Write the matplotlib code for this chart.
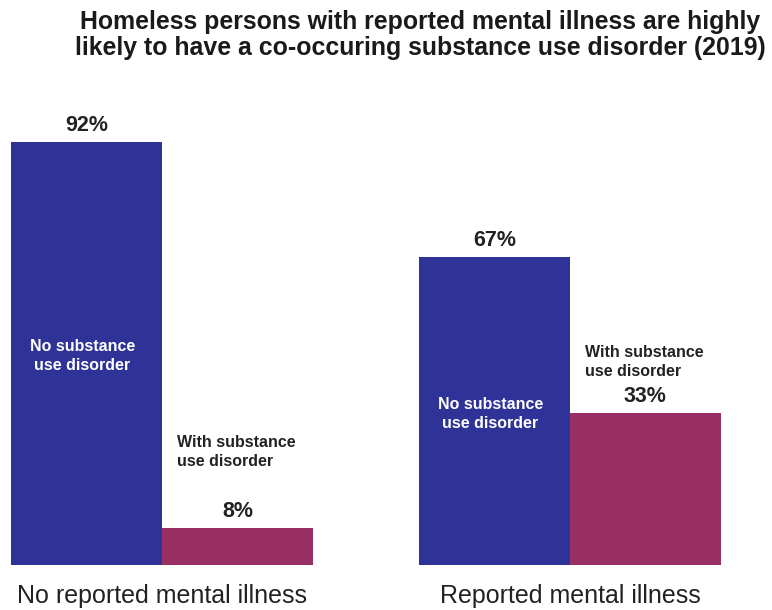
import matplotlib
matplotlib.use('Agg')
import matplotlib.pyplot as plt
import numpy as np

plt.rcParams['font.family'] = ['Liberation Sans', 'DejaVu Sans']

# Share of homeless persons (%) by mental illness status, 2019
groups = ['No reported mental illness', 'Reported mental illness']
no_sud = [92, 67]
with_sud = [8, 33]
no_sud_label = 'No substance\nuse disorder'
with_sud_label = 'With substance\nuse disorder'

blue = '#2f3398'
magenta = '#993063'

fig = plt.figure(figsize=(7.72, 6.10), dpi=100)
ax = fig.add_axes([0, 45 / 610, 1, 475 / 610])

x = np.arange(len(groups))
w = 0.37
b1 = ax.bar(x - w / 2, no_sud, w, color=blue)
b2 = ax.bar(x + w / 2, with_sud, w, color=magenta)

ax.set_xlim(-162 / 408, 610 / 408)
ax.set_ylim(0, 475 / 4.6)

# value labels above the bars
for bars, vals in [(b1, no_sud), (b2, with_sud)]:
    for rect, v in zip(bars, vals):
        ax.annotate(f'{v}%', (rect.get_x() + rect.get_width() / 2, v),
                    xytext=(0, 12), textcoords='offset points',
                    ha='center', va='center', fontsize=15.5,
                    fontweight='bold', color='#222222')

# white labels inside the blue bars
for rect, v in zip(b1, no_sud):
    ax.annotate(no_sud_label, (rect.get_x() + rect.get_width() / 2, v / 2),
                xytext=(-3, -2), textcoords='offset points',
                ha='center', va='center', fontsize=11.5, fontweight='bold',
                color='white', linespacing=1.35)

# dark labels above the magenta bars
sud_offsets = [55, 37]
for rect, v, off in zip(b2, with_sud, sud_offsets):
    ax.annotate(with_sud_label, (rect.get_x(), v),
                xytext=(11, off), textcoords='offset points',
                ha='left', va='center', fontsize=11.5, fontweight='bold',
                color='#222222', linespacing=1.35)

ax.set_xticks(x)
ax.set_xticklabels(groups, fontsize=18, color='#222222')
ax.tick_params(axis='x', length=0, pad=14)
ax.set_yticks([])
for s in ax.spines.values():
    s.set_visible(False)

fig.text(420 / 772, 1 - 10 / 610,
         'Homeless persons with reported mental illness are highly\n'
         'likely to have a co-occuring substance use disorder (2019)',
         ha='center', va='top', fontsize=17.9, fontweight='bold',
         color='#1a1a1a', linespacing=1.1)

fig.savefig('out.png', dpi=100)
